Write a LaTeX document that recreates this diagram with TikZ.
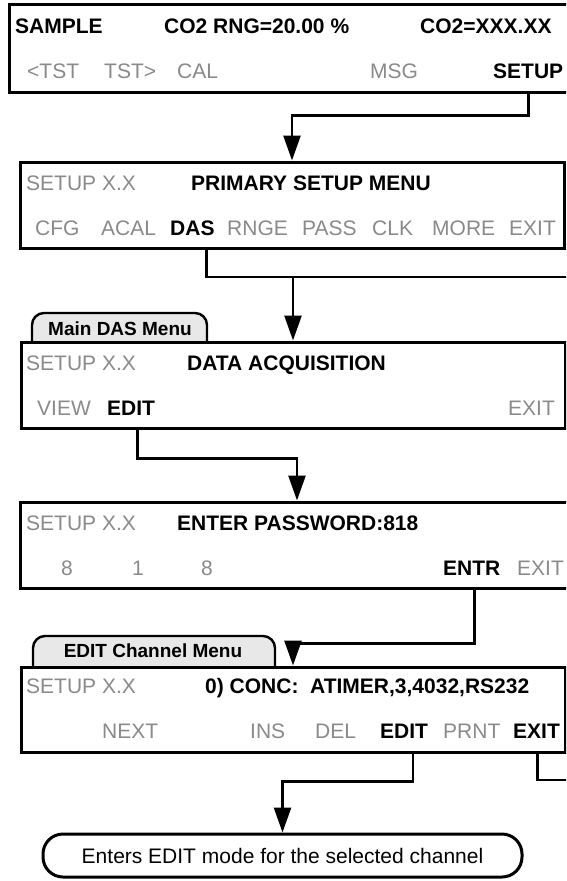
\documentclass[tikz,border=0pt]{standalone}
\usepackage{fontspec}
\setmainfont{Liberation Sans}
\usetikzlibrary{arrows.meta}
\definecolor{lcdgray}{RGB}{138,138,138}
\definecolor{tabgray}{RGB}{232,232,232}
\newcommand\lcdsize{\fontsize{21}{25}\selectfont}
\newcommand\tabsize{\fontsize{19}{23}\selectfont}
\begin{document}
\begin{tikzpicture}[x=1pt,y=-1pt,
  box/.style={draw, line width=3pt, fill=white, inner sep=0pt},
  tabshape/.style={draw, line width=2.4pt, fill=tabgray, rounded corners=12pt, inner sep=0pt},
  lbl/.style={inner sep=0pt, anchor=base west, font=\lcdsize},
  lblb/.style={lbl, font=\lcdsize\bfseries},
  lblg/.style={lbl, text=lcdgray},
  tabtxt/.style={inner sep=0pt, anchor=base, font=\tabsize\bfseries},
  conn/.style={line width=2.6pt},
  arr/.style={-{Triangle[length=25pt,width=17pt]}}]
\useasboundingbox (0,0) rectangle (566,881);
\clip (0,0) rectangle (566,881);

% ---------- box 1
\node[box, minimum width=581pt, minimum height=88pt] (b1) at (299.5,48) {};
\node[lblb] (sample) at (15,33) {SAMPLE};
\node[lblb] (rng) at (164,33) {CO2 RNG=20.00 \%};
\node[lblb] (co2) at (420,33) {CO2=XXX.XX};
\node[lblg] (tstl) at (27,78) {<TST};
\node[lblg] (tstr) at (104,78) {TST>};
\node[lblg] (cal) at (177,78) {CAL};
\node[lblg] (msg) at (370,78) {MSG};
\node[lblb] (setup) at (493,78) {SETUP};

% ---------- box 2
\node[box, minimum width=544pt, minimum height=86pt] (b2) at (292,205) {};
\node[lblg] (ver2) at (26,190) {SETUP X.X};
\node[lblb] (psm) at (191,190) {PRIMARY SETUP MENU};
\node[lblg] (cfg) at (35,235) {CFG};
\node[lblg] (acal) at (101,235) {ACAL};
\node[lblb] (das) at (170,235) {DAS};
\node[lblg] (rnge) at (227,235) {RNGE};
\node[lblg] (pass) at (302,235) {PASS};
\node[lblg] (clk) at (372,235) {CLK};
\node[lblg] (more) at (432,235) {MORE};
\node[lblg] (exit2) at (509,235) {EXIT};

% ---------- box 3 (Main DAS Menu)
\node[tabshape, minimum width=175pt, minimum height=44pt] (tab1) at (119.5,335) {};
\node[box, minimum width=544pt, minimum height=86pt] (b3) at (293,385) {};
\node[tabtxt] (tab1t) at (120,335) {Main DAS Menu};
\node[lblg] (ver3) at (26,370) {SETUP X.X};
\node[lblb] (daq) at (187,370) {DATA ACQUISITION};
\node[lblg] (view) at (37,415) {VIEW};
\node[lblb] (edit3) at (107,415) {EDIT};
\node[lblg] (exit3) at (508,415) {EXIT};

% ---------- box 4 (password)
\node[box, minimum width=554pt, minimum height=86pt] (b4) at (297,545) {};
\node[lblg] (ver4) at (26,530) {SETUP X.X};
\node[lblb] (pw) at (177,530) {ENTER PASSWORD:818};
\node[lblg, anchor=base] (d1) at (67,575) {8};
\node[lblg, anchor=base] (d2) at (138,575) {1};
\node[lblg, anchor=base] (d3) at (207,575) {8};
\node[lblb] (entr) at (443,575) {ENTR};
\node[lblg] (exit4) at (517,575) {EXIT};

% ---------- box 5 (EDIT Channel Menu)
\node[tabshape, minimum width=242pt, minimum height=44pt] (tab2) at (154,658) {};
\node[box, minimum width=544pt, minimum height=85pt] (b5) at (293,709.5) {};
\node[tabtxt] (tab2t) at (153,657) {EDIT Channel Menu};
\node[lblg] (ver5) at (26,693) {SETUP X.X};
\node[lblb] (conc) at (205,693) {0) CONC:\ \ ATIMER,3,4032,RS232};
\node[lblg] (next) at (102,738) {NEXT};
\node[lblg] (ins) at (250,738) {INS};
\node[lblg] (del) at (315,738) {DEL};
\node[lblb] (edit5) at (380,738) {EDIT};
\node[lblg] (prnt) at (443,738) {PRNT};
\node[lblb] (exit5) at (513,738) {EXIT};

% ---------- final box
\node[box, rounded corners=20pt, minimum width=479pt, minimum height=43pt, font=\lcdsize] (b6) at (282.5,855.5) {Enters EDIT mode for the selected channel};

% ---------- connectors
\coordinate (c1) at (setup.south);
\draw[conn,arr] (c1 |- b1.south) -- ++(0,22) -| (b2.north);

\coordinate (c2) at ([xshift=14pt]das.south);
\coordinate (e2) at (580,277);
\draw[conn] (c2 |- b2.south) |- (e2);
\draw[conn,arr] (b3.north |- e2) -- (b3.north);

\coordinate (c3) at ([xshift=6.5pt]edit3.south);
\draw[conn,arr] (c3 |- b3.south) -- ++(0,29) -| (b4.north);

\coordinate (c4) at ([xshift=2.5pt]entr.south);
\draw[conn,arr] (c4 |- b4.south) -- ++(0,54) -| (b5.north);

\coordinate (c5) at ([xshift=8.7pt]edit5.south);
\draw[conn,arr] (c5 |- b5.south) -- ++(0,28) -| (b6.north);

\coordinate (c6) at ([xshift=1pt]exit5.south);
\coordinate (e6) at (580,780);
\draw[conn] (c6 |- b5.south) |- (e6);
\end{tikzpicture}
\end{document}
